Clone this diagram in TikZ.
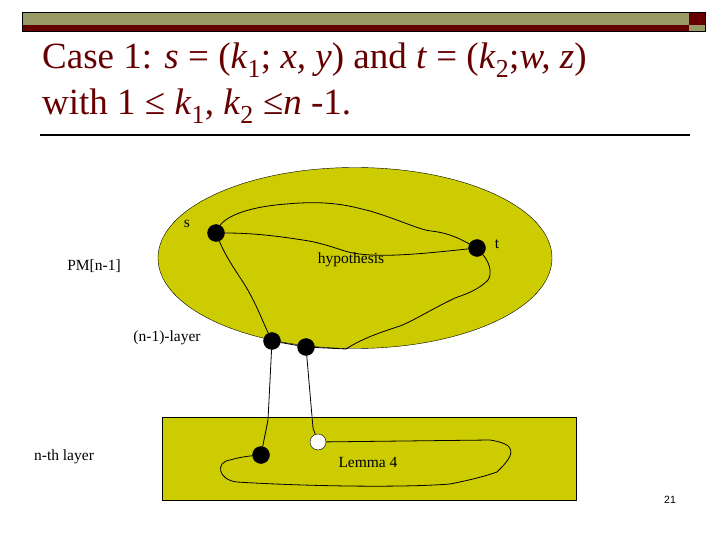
\documentclass[tikz,border=0pt]{standalone}
\usepackage{fontspec}
\setmainfont{Liberation Serif}
\usetikzlibrary{shapes.geometric}
\begin{document}
\begin{tikzpicture}[x=1pt,y=-1pt,
  dot/.style={circle,fill=black,draw=black,inner sep=0pt,minimum size=17pt},
  wdot/.style={circle,fill=white,draw=black,inner sep=0pt,minimum size=16pt},
  lbl/.style={font=\fontsize{15.5}{18}\selectfont,inner sep=0pt},
  ttl/.style={anchor=west,inner sep=0pt,text=barr,font=\fontsize{37}{42}\selectfont},
  wig/.style={black,line width=0.8pt}]
\definecolor{olive}{HTML}{CCCC00}
\definecolor{barg}{HTML}{999966}
\definecolor{barr}{HTML}{660000}
\useasboundingbox (0,0) rectangle (720,540);
% header bar
\fill[barg] (22,12) rectangle (689,25);
\fill[barr] (22,25) rectangle (689,31);
\fill[barr] (689,12) rectangle (705,25);
\fill[barg] (689,25) rectangle (705,31);
\draw[black,line width=0.6pt] (22,12) rectangle (705,31);
\node[ttl] (t1) at (42,60) {Case 1: \textit{s} = (\textit{k}\textsubscript{1}; \textit{x, y}) and \textit{t} = (\textit{k}\textsubscript{2};\textit{w, z})};
\node[ttl] (t2) at (42,106) {with 1 ≤ \textit{k}\textsubscript{1}, \textit{k}\textsubscript{2} ≤\textit{n} -1.};
\draw[black,line width=1.2pt] (40,135) -- (690,135);
% shapes
\node[ellipse,draw=black,fill=olive,minimum width=394pt,minimum height=181pt,inner sep=0pt] (E) at (355,258) {};
\node[draw=black,fill=olive,minimum width=414pt,minimum height=83pt,inner sep=0pt] (R) at (369,458.5) {};
% dots
\node[dot] (s) at (216,233) {};
\node[dot] (t) at (477,248) {};
\node[dot] (a) at (272,341) {};
\node[dot] (b) at (306,347) {};
\node[dot] (c) at (261,455) {};
% paths
\draw[wig] (s) .. controls (222,222) and (235,208) .. (286,204) .. controls (330,200) and (350,206) .. (370,211) .. controls (400,220) and (420,230) .. (431,231) .. controls (450,233) and (462,240) .. (t);
\draw[wig] (s) .. controls (260,233) and (290,238) .. (309,241) .. controls (330,245) and (345,252) .. (353,253) .. controls (380,258) and (420,254) .. (t);
\draw[wig] (s) .. controls (225,255) and (235,270) .. (241,279) .. controls (255,300) and (262,320) .. (a);
\draw[wig] (t) .. controls (492,265) and (492,278) .. (486,282) .. controls (475,292) and (460,296) .. (455,298) .. controls (430,310) and (415,320) .. (400,326) .. controls (375,334) and (360,340) .. (346,349) -- (b);
\draw[wig] (a) -- (b);
\draw[wig] (a) -- (268,420) -- (c);
\node[wdot] (w) at (318,442) {};
\draw[wig] (b) -- (313,428) -- (w);
\draw[wig] (w) -- (490,440) .. controls (515,444) and (518,452) .. (497,472) .. controls (480,478) and (460,482) .. (450,484) .. controls (400,488) and (300,486) .. (237,482) .. controls (218,480) and (215,462) .. (230,460) .. controls (240,457) and (250,456) .. (c);
% labels
\node[lbl] (ls) at (187,224) {s};
\node[lbl] (lt) at (497,244) {t};
\node[lbl] (lh) at (351,260) {hypothesis};
\node[lbl] (lpm) at (94,266) {PM[n-1]};
\node[lbl] (lnl) at (167,338) {(n-1)-layer};
\node[lbl] (lnt) at (64,457) {n-th layer};
\node[lbl] (lL) at (368,462) {Lemma 4};
\node[inner sep=0pt,font=\fontspec{Liberation Sans}\fontsize{10.5}{12}\selectfont] (pg) at (670,500) {21};
\end{tikzpicture}
\end{document}
